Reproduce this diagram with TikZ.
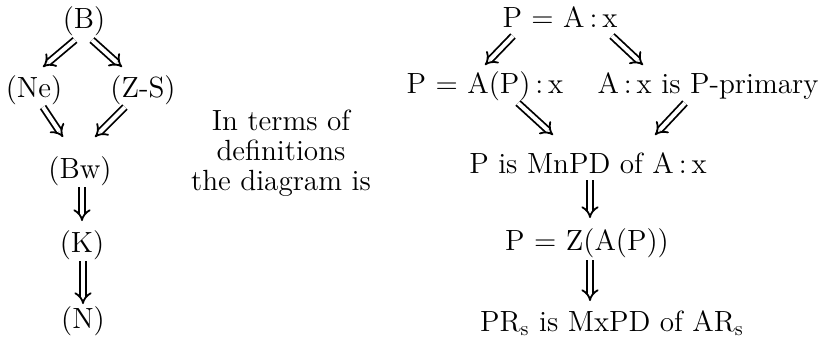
\documentclass[tikz,border=0pt]{standalone}
\usepackage{amsmath}
\usepackage{tikz}
\usetikzlibrary{arrows.meta}

\begin{document}
\begin{tikzpicture}[x=0.5pt, y=-0.5pt, font=\fontsize{14.6}{15}\selectfont,
    every node/.style={anchor=base, inner sep=0pt},
    impl/.style={double, double distance=2pt, line width=0.9pt, -{Implies[scale=1.25]}}]
  \useasboundingbox (0,0) rectangle (818,338);
  % left diagram
  \node (b)  at (84,28)  {(B)};
  \node (ne) at (34,97)  {(Ne)};
  \node (zs) at (143,97) {(Z-S)};
  \node (bw) at (80,178) {(Bw)};
  \node (k)  at (82,252) {(K)};
  \node (n)  at (83,328) {(N)};
  \draw[impl] ([shift={(-9,12)}]b.base) -- ([shift={(9,-30)}]ne.base);
  \draw[impl] ([shift={(8,12)}]b.base) -- ([shift={(-21,-30)}]zs.base);
  \draw[impl] ([shift={(9,10)}]ne.base) -- ([shift={(-17,-41)}]bw.base);
  \draw[impl] ([shift={(-18,10)}]zs.base) -- ([shift={(15,-41)}]bw.base);
  \draw[impl] ([shift={(2,9)}]bw.base) -- ([shift={(0,-31)}]k.base);
  \draw[impl] ([shift={(1,9)}]k.base) -- ([shift={(0,-24)}]n.base);
  \node[anchor=center, align=center] (defs) at (281,153)
    {In terms of\\ definitions\\ the diagram is};
  % right diagram
  \node (pax)  at (560,27)  {P = A\,:\,x};
  \node (papx) at (485,93)  {P = A(P)\,:\,x};
  \node (prim) at (708,93)  {A\,:\,x is P-primary};
  \node (mnpd) at (588,173) {P is MnPD of A\,:\,x};
  \node (pz)   at (587,250) {P = Z(A(P))};
  \node (mxpd) at (612,331) {PR$_{\mathrm{s}}$ is MxPD of AR$_{\mathrm{s}}$};
  \draw[impl] ([shift={(-47,9)}]pax.base) -- ([shift={(0,-28)}]papx.base);
  \draw[impl] ([shift={(52,9)}]pax.base) -- ([shift={(-65,-28)}]prim.base);
  \draw[impl] ([shift={(33,10)}]papx.base) -- ([shift={(-35,-38)}]mnpd.base);
  \draw[impl] ([shift={(-23,10)}]prim.base) -- ([shift={(67,-38)}]mnpd.base);
  \draw[impl] ([shift={(2,7)}]mnpd.base) -- ([shift={(3,-32)}]pz.base);
  \draw[impl] ([shift={(3,10)}]pz.base) -- ([shift={(-22,-30)}]mxpd.base);
\end{tikzpicture}
\end{document}
